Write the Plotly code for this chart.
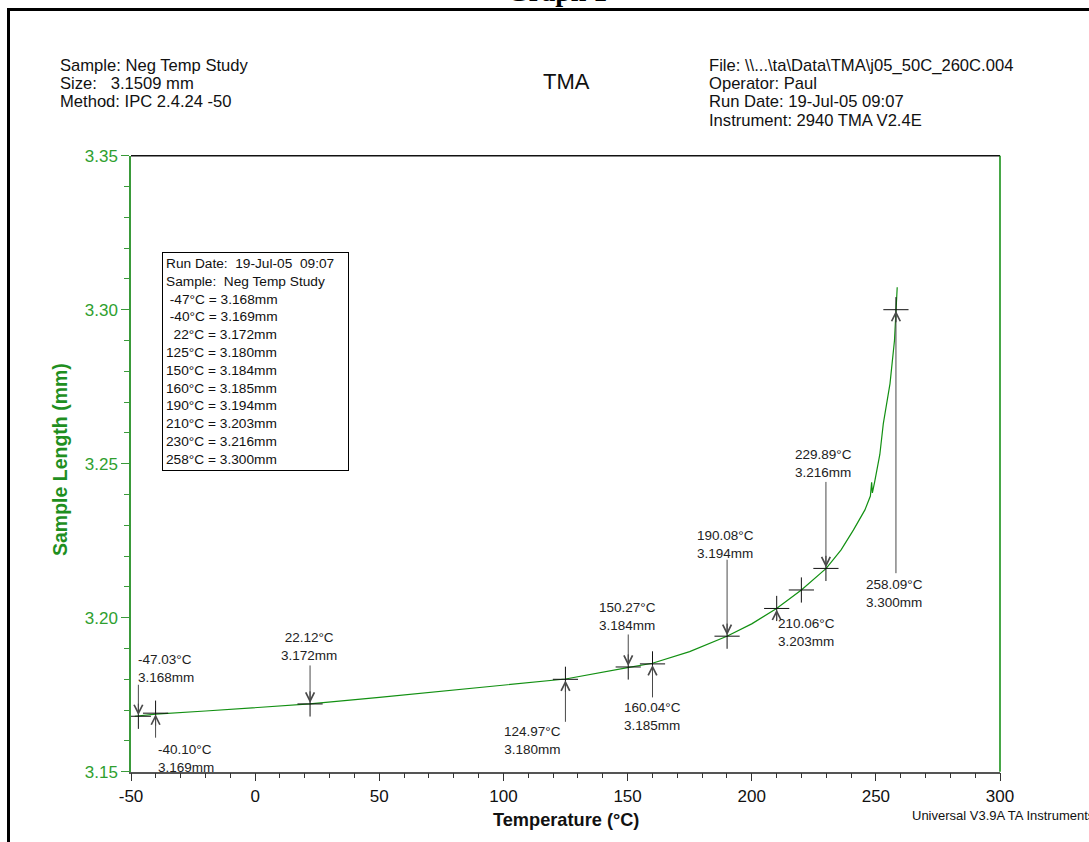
import plotly.graph_objects as go

# ---------------- data ----------------
temp_curve = [-48.5, -40, -20, 0, 22, 50, 78, 100, 125, 150, 160, 175, 190, 200,
              210, 220, 230, 236, 241, 245.6, 247.8, 248.3, 248.6, 249.5, 251.6,
              253, 255.7, 257.5, 258.1, 258.6]
length_curve = [3.1680, 3.1687, 3.1697, 3.1707, 3.1720, 3.1741, 3.1763, 3.1780,
                3.1801, 3.1838, 3.1852, 3.1890, 3.1940, 3.1980, 3.2030, 3.2090,
                3.2160, 3.2220, 3.2285, 3.2350, 3.2395, 3.2440, 3.2405, 3.2440,
                3.2530, 3.2630, 3.2760, 3.2900, 3.3000, 3.3073]

mark_temp = [-47.03, -40.10, 22.12, 124.97, 150.27, 160.04, 190.08, 210.06, 229.89, 258.09]
mark_len = [3.168, 3.169, 3.172, 3.180, 3.184, 3.185, 3.194, 3.203, 3.216, 3.300]
extra_temp = [220.0]
extra_len = [3.209]

x_ticks = [-50, 0, 50, 100, 150, 200, 250, 300]
y_ticks = [3.15, 3.20, 3.25, 3.30, 3.35]

# label layout: (arrow tail offset px (+ = below), text anchor, text xshift, text yshift)
label_style = [
    (-33, "left", -2, 48),
    (26, "left", 0, -45),
    (-40, "center", -1, 57),
    (44, "right", -2, -61),
    (-34, "center", -1, 50),
    (35, "center", 0, -53),
    (-78, "center", -2, 92),
    (13, "left", -1, -24),
    (-88, "center", -2, 105),
    (265, "center", -1, -284),
]

W, H = 1089, 842
FONT = "Liberation Sans, Arial, sans-serif"
GREEN_AX = "#3a9a3a"
GREEN_TXT = "#2f9f2f"
CURVE = "#129012"


def px(x):
    return x / W


def py(y):
    return (H - y) / H


fig = go.Figure()

fig.add_trace(go.Scatter(x=temp_curve, y=length_curve, mode="lines",
                         line=dict(color=CURVE, width=1.2), hoverinfo="skip",
                         showlegend=False))

fig.add_trace(go.Scatter(x=mark_temp + extra_temp, y=mark_len + extra_len,
                         mode="markers",
                         marker=dict(symbol="cross-thin", size=18,
                                     line=dict(color="#111111", width=1)),
                         showlegend=False, hoverinfo="skip"))

annotations = []
for t, l, (tail, anchor, dx, dy) in zip(mark_temp, mark_len, label_style):
    annotations.append(dict(x=t, y=l, xref="x", yref="y", text="", showarrow=True,
                            ax=0, ay=tail, arrowhead=5, arrowsize=1.7, arrowwidth=1,
                            arrowcolor="#4a4a4a", standoff=1))
    annotations.append(dict(x=t, y=l, xref="x", yref="y",
                            text=f"{t:.2f}°C<br>{l:.3f}mm", showarrow=False,
                            xanchor=anchor, yanchor="middle", align=anchor,
                            xshift=dx, yshift=dy,
                            font=dict(family=FONT, size=13.5, color="#222222")))

# legend box
NB = "\u00a0"
legend_lines = [f"Run Date:{NB*2}19-Jul-05{NB*2}09:07", f"Sample:{NB*2}Neg Temp Study"]
for t, l in zip(mark_temp, mark_len):
    s = str(int(round(t)))
    pad = 1 if s.startswith("-") else 2 * (3 - len(s))
    legend_lines.append(f"{NB*pad}{s}°C = {l:.3f}mm")
annotations.append(dict(x=px(162), y=py(252), xref="paper", yref="paper",
                        xanchor="left", yanchor="top", showarrow=False,
                        text="<br>".join(legend_lines), align="left", width=179,
                        bordercolor="#000000", borderwidth=1, borderpad=3,
                        bgcolor="white",
                        font=dict(family=FONT, size=13.7, color="#111111")))

# header
left_hdr = ["Sample: Neg Temp Study", f"Size:{NB*3}3.1509 mm", "Method: IPC 2.4.24 -50"]
right_hdr = [r"File: \\...\ta\Data\TMA\j05_50C_260C.004", "Operator: Paul",
             "Run Date: 19-Jul-05 09:07", "Instrument: 2940 TMA V2.4E"]
for i, s in enumerate(left_hdr):
    annotations.append(dict(x=px(58), y=py(65 + 18.5 * i), xref="paper", yref="paper",
                            xanchor="left", yanchor="middle", showarrow=False, text=s,
                            font=dict(family=FONT, size=16.6, color="#111111")))
for i, s in enumerate(right_hdr):
    annotations.append(dict(x=px(707), y=py(65 + 18.5 * i), xref="paper", yref="paper",
                            xanchor="left", yanchor="middle", showarrow=False, text=s,
                            font=dict(family=FONT, size=16.6, color="#111111")))
annotations.append(dict(x=px(566), y=py(82), xref="paper", yref="paper",
                        xanchor="center", yanchor="middle", showarrow=False, text="TMA",
                        font=dict(family=FONT, size=22, color="#111111")))
annotations.append(dict(x=px(557), y=py(9), xref="paper", yref="paper",
                        xanchor="center", yanchor="bottom", showarrow=False,
                        text="<b>Graph 1</b>",
                        font=dict(family="Liberation Serif, Times New Roman, serif",
                                  size=28, color="#000000")))
# axis titles
annotations.append(dict(x=px(60), y=py(460), xref="paper", yref="paper",
                        xanchor="center", yanchor="middle", showarrow=False,
                        text="<b>Sample Length (mm)</b>", textangle=-90,
                        font=dict(family=FONT, size=19.5, color="#1f8f1f")))
annotations.append(dict(x=px(566), y=py(820), xref="paper", yref="paper",
                        xanchor="center", yanchor="middle", showarrow=False,
                        text="<b>Temperature (°C)</b>",
                        font=dict(family=FONT, size=18.2, color="#111111")))
annotations.append(dict(x=px(910), y=py(815), xref="paper", yref="paper",
                        xanchor="left", yanchor="middle", showarrow=False,
                        text="Universal V3.9A TA Instruments",
                        font=dict(family=FONT, size=13, color="#111111")))

shapes = [
    # plot frame top (black) and right (green)
    dict(type="line", xref="x domain", yref="y domain", x0=0, x1=1, y0=1, y1=1,
         line=dict(color="#111111", width=1.5)),
    dict(type="line", xref="x domain", yref="y domain", x0=1, x1=1, y0=0, y1=1,
         line=dict(color="#0a8a0a", width=1.5)),
    # page border
    dict(type="line", xref="paper", yref="paper", x0=px(8.5), x1=px(8.5), y0=0, y1=py(8),
         line=dict(color="#000000", width=3)),
    dict(type="line", xref="paper", yref="paper", x0=px(7), x1=1, y0=py(9.5), y1=py(9.5),
         line=dict(color="#000000", width=3)),
]

fig.update_layout(
    width=W, height=H,
    margin=dict(l=0, r=0, t=0, b=0, autoexpand=False),
    paper_bgcolor="white", plot_bgcolor="white",
    showlegend=False,
    annotations=annotations,
    shapes=shapes,
    xaxis=dict(domain=[px(131), px(1000)], range=[-50, 300], tickvals=x_ticks,
               ticktext=[str(v) for v in x_ticks], automargin=False,
               showgrid=False, zeroline=False, showline=True, linecolor="#555555",
               linewidth=1.5, ticks="outside", ticklen=8, tickcolor="#333333",
               tickfont=dict(family=FONT, size=17, color="#111111"),
               minor=dict(dtick=10, ticks="outside", ticklen=5, tickcolor="#333333",
                          showgrid=False)),
    yaxis=dict(domain=[py(771.7), py(155.7)], range=[3.15, 3.35], tickvals=y_ticks,
               ticktext=[f"{v:.2f}" for v in y_ticks], automargin=False,
               showgrid=False, zeroline=False, showline=True, linecolor=GREEN_AX,
               linewidth=1.5, ticks="outside", ticklen=8, tickcolor=GREEN_AX,
               tickfont=dict(family=FONT, size=17, color=GREEN_TXT),
               minor=dict(dtick=0.01, ticks="outside", ticklen=5, tickcolor=GREEN_AX,
                          showgrid=False)),
)

fig.write_html("out.html", config={"displayModeBar": False},
               post_script="document.body.style.margin='0';"
                           "document.body.style.overflow='hidden';")
